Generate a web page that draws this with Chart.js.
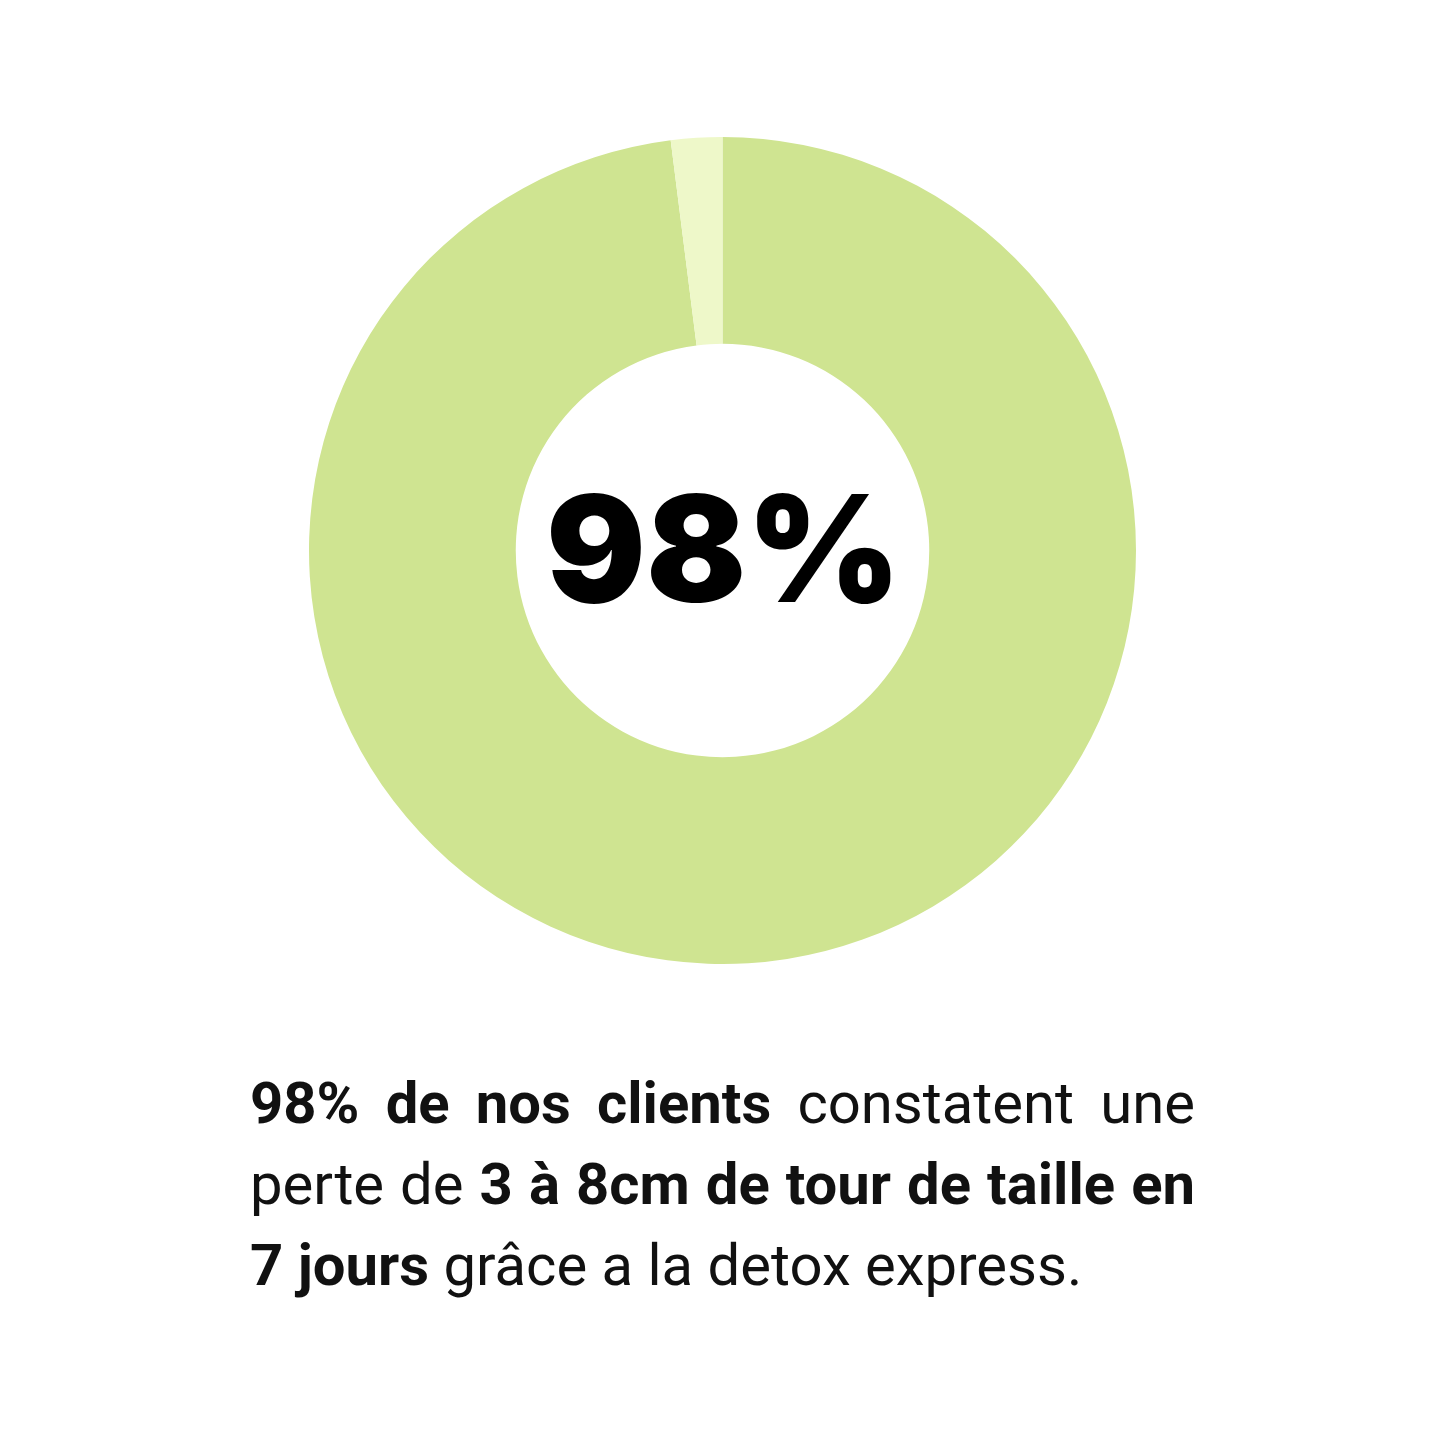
<!DOCTYPE html>
<html>
<head>
<meta charset="utf-8">
<script src="https://cdn.jsdelivr.net/npm/chart.js@4"></script>
<style>
  html, body { margin: 0; padding: 0; background: #fff; }
  body { width: 1445px; height: 1445px; position: relative; overflow: hidden; }
  #wrap { position: absolute; left: 309px; top: 137px; width: 827px; height: 827px; }
  #caption {
    position: absolute; left: 250px; top: 1063px; width: 945px;
    font-family: Roboto, sans-serif; font-size: 58px; line-height: 81px; color: #111;
  }
  #caption .line { white-space: nowrap; }
  #caption .just { text-align: justify; text-align-last: justify; white-space: normal; }
  #caption b { font-weight: 700; }
</style>
</head>
<body>
<div id="wrap"><canvas id="donut"></canvas></div>
<div id="caption">
  <div class="line just"><b>98% de nos clients</b> constatent une</div>
  <div class="line just">perte de <b>3 à 8cm de tour de taille en</b></div>
  <div class="line"><b>7 jours</b> grâce a la detox express.</div>
</div>
<script>
// Data
const labels = ['Constatent une perte', 'Autres'];
const values = [98, 2];
const colors = ['#cfe491', '#eef8c9'];
const centerLabel = '98%';

// Center text
const centerText = {
  id: 'centerText',
  afterDraw(chart) {
    const { ctx, chartArea } = chart;
    const x = (chartArea.left + chartArea.right) / 2;
    const y = (chartArea.top + chartArea.bottom) / 2;
    ctx.save();
    ctx.font = '900 148px Inter, "DejaVu Sans", sans-serif';
    ctx.fillStyle = '#000';
    ctx.textAlign = 'center';
    ctx.textBaseline = 'alphabetic';
    ctx.fillText(centerLabel, x + 1, y + 51);
    ctx.restore();
  }
};

new Chart(document.getElementById('donut'), {
  type: 'doughnut',
  data: {
    labels: labels,
    datasets: [{
      data: values,
      backgroundColor: colors,
      borderWidth: 0,
      hoverOffset: 0,
      offset: 0
    }]
  },
  options: {
    responsive: true,
    maintainAspectRatio: false,
    animation: false,
    cutout: '50%',
    layout: { padding: 0 },
    plugins: {
      legend: { display: false },
      tooltip: { enabled: false }
    }
  },
  plugins: [centerText]
});
</script>
</body>
</html>
